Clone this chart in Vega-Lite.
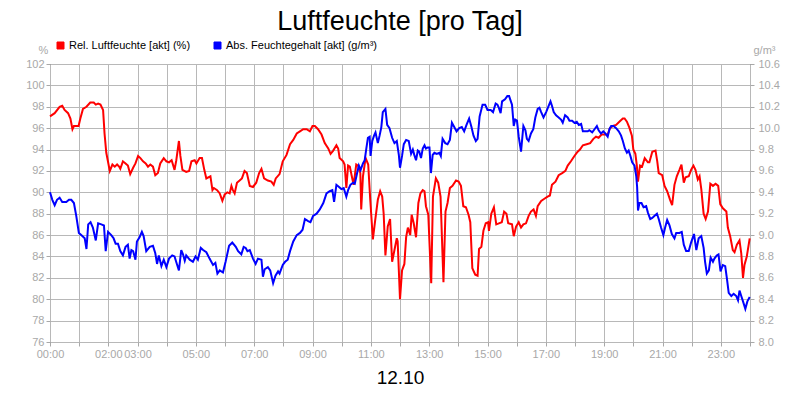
{
"$schema": "https://vega.github.io/schema/vega-lite/v6.json",
"width": 700, "height": 278,
"autosize": {"type": "none"},
"padding": {"left": 50, "top": 64, "right": 50, "bottom": 58},
"background": "white",
"title": {"text": "Luftfeuchte [pro Tag]", "font": "Liberation Sans", "fontSize": 27, "fontWeight": "normal", "color": "black", "anchor": "middle", "offset": 4},
"config": {
  "view": {"stroke": "black", "strokeWidth": 1},
  "font": "Liberation Sans",
  "axis": {"labelFont": "Liberation Sans", "titleFont": "Liberation Sans", "labelFontSize": 11, "labelColor": "#a8a8a8", "tickColor": "#a8a8a8", "tickSize": 4, "gridColor": "#b8b8b8", "gridWidth": 1, "domain": false, "labelOverlap": false, "labelFlush": false}
},
"datasets": {
"rel": [
{"t":0.00,"v":97.1},{"t":0.16,"v":97.4},{"t":0.33,"v":98.0},{"t":0.42,"v":98.1},{"t":0.50,"v":97.7},{"t":0.62,"v":97.4},{"t":0.70,"v":96.9},{"t":0.77,"v":95.9},{"t":0.82,"v":96.2},{"t":0.98,"v":96.2},
{"t":1.04,"v":96.9},{"t":1.13,"v":97.8},{"t":1.25,"v":98.0},{"t":1.38,"v":98.4},{"t":1.50,"v":98.4},{"t":1.57,"v":98.2},{"t":1.65,"v":98.3},{"t":1.73,"v":98.2},{"t":1.82,"v":97.7},{"t":1.87,"v":95.5},{"t":1.93,"v":93.7},
{"t":2.05,"v":92.0},{"t":2.14,"v":92.6},{"t":2.22,"v":92.4},{"t":2.30,"v":92.6},{"t":2.37,"v":92.4},{"t":2.41,"v":92.2},{"t":2.50,"v":92.9},{"t":2.59,"v":92.7},{"t":2.67,"v":92.5},{"t":2.75,"v":91.7},{"t":2.85,"v":92.3},{"t":2.93,"v":92.7},
{"t":3.02,"v":93.4},{"t":3.10,"v":93.2},{"t":3.19,"v":92.9},{"t":3.28,"v":92.7},{"t":3.36,"v":92.4},{"t":3.44,"v":92.6},{"t":3.53,"v":92.4},{"t":3.61,"v":91.6},{"t":3.70,"v":91.8},{"t":3.78,"v":92.7},{"t":3.90,"v":93.2},{"t":3.99,"v":92.9},
{"t":4.08,"v":92.8},{"t":4.17,"v":93.0},{"t":4.27,"v":92.1},{"t":4.33,"v":93.0},{"t":4.42,"v":94.8},{"t":4.47,"v":93.4},{"t":4.54,"v":92.1},{"t":4.67,"v":91.9},{"t":4.77,"v":92.0},{"t":4.85,"v":92.9},{"t":4.96,"v":93.0},
{"t":5.02,"v":92.7},{"t":5.13,"v":93.2},{"t":5.21,"v":93.2},{"t":5.29,"v":92.1},{"t":5.36,"v":91.3},{"t":5.50,"v":91.5},{"t":5.57,"v":90.2},{"t":5.62,"v":90.4},{"t":5.73,"v":90.2},{"t":5.82,"v":89.9},{"t":5.91,"v":89.2},{"t":5.99,"v":89.8},
{"t":6.08,"v":90.0},{"t":6.16,"v":89.9},{"t":6.22,"v":90.6},{"t":6.27,"v":90.2},{"t":6.33,"v":89.9},{"t":6.41,"v":90.9},{"t":6.50,"v":91.1},{"t":6.58,"v":91.3},{"t":6.67,"v":92.0},{"t":6.75,"v":91.8},{"t":6.85,"v":90.6},{"t":6.96,"v":90.5},
{"t":7.07,"v":90.9},{"t":7.17,"v":91.8},{"t":7.25,"v":92.2},{"t":7.34,"v":91.3},{"t":7.47,"v":91.1},{"t":7.59,"v":91.0},{"t":7.67,"v":90.7},{"t":7.74,"v":91.3},{"t":7.87,"v":91.7},{"t":7.98,"v":92.9},
{"t":8.11,"v":93.5},{"t":8.23,"v":94.5},{"t":8.34,"v":94.9},{"t":8.46,"v":95.5},{"t":8.57,"v":95.7},{"t":8.68,"v":95.9},{"t":8.80,"v":95.9},{"t":8.91,"v":95.7},{"t":9.00,"v":96.2},{"t":9.08,"v":96.2},{"t":9.19,"v":95.9},
{"t":9.31,"v":95.4},{"t":9.42,"v":94.6},{"t":9.54,"v":94.1},{"t":9.62,"v":93.6},{"t":9.71,"v":93.9},{"t":9.82,"v":94.4},{"t":9.88,"v":94.1},{"t":9.93,"v":93.2},{"t":10.05,"v":92.9},{"t":10.10,"v":92.6},{"t":10.16,"v":90.4},
{"t":10.22,"v":92.5},{"t":10.28,"v":92.4},{"t":10.34,"v":91.6},{"t":10.41,"v":90.7},{"t":10.50,"v":92.6},{"t":10.56,"v":92.5},{"t":10.64,"v":91.8},{"t":10.67,"v":88.4},{"t":10.73,"v":91.5},{"t":10.82,"v":93.2},{"t":10.91,"v":92.6},
{"t":10.98,"v":89.3},{"t":11.07,"v":85.6},{"t":11.15,"v":87.4},{"t":11.24,"v":89.3},{"t":11.32,"v":90.1},{"t":11.39,"v":89.6},{"t":11.44,"v":88.0},{"t":11.50,"v":84.1},{"t":11.58,"v":86.8},{"t":11.66,"v":87.5},{"t":11.73,"v":83.5},
{"t":11.81,"v":84.6},{"t":11.89,"v":85.7},{"t":11.92,"v":85.4},{"t":12.00,"v":80.0},{"t":12.07,"v":82.7},{"t":12.15,"v":83.3},{"t":12.21,"v":85.8},{"t":12.27,"v":86.7},{"t":12.35,"v":86.0},{"t":12.40,"v":87.9},{"t":12.47,"v":87.1},
{"t":12.55,"v":85.8},{"t":12.63,"v":89.0},{"t":12.70,"v":89.9},{"t":12.78,"v":90.2},{"t":12.84,"v":90.1},{"t":12.89,"v":88.7},{"t":12.97,"v":87.9},{"t":13.07,"v":81.5},{"t":13.13,"v":89.6},{"t":13.23,"v":91.3},{"t":13.31,"v":90.9},
{"t":13.39,"v":89.6},{"t":13.49,"v":81.6},{"t":13.56,"v":88.2},{"t":13.63,"v":89.0},{"t":13.71,"v":90.4},{"t":13.80,"v":90.6},{"t":13.92,"v":91.1},{"t":14.01,"v":91.0},{"t":14.09,"v":90.6},{"t":14.17,"v":88.7},{"t":14.26,"v":88.6},
{"t":14.35,"v":87.9},{"t":14.41,"v":87.2},{"t":14.48,"v":82.9},{"t":14.58,"v":82.3},{"t":14.66,"v":82.2},{"t":14.71,"v":84.7},{"t":14.79,"v":84.9},{"t":14.86,"v":86.4},{"t":14.94,"v":87.1},{"t":15.02,"v":87.2},{"t":15.05,"v":86.4},
{"t":15.13,"v":88.0},{"t":15.22,"v":88.6},{"t":15.30,"v":87.0},{"t":15.39,"v":87.1},{"t":15.49,"v":87.2},{"t":15.57,"v":88.2},{"t":15.65,"v":88.0},{"t":15.71,"v":87.1},{"t":15.84,"v":87.0},{"t":15.90,"v":85.9},{"t":15.98,"v":86.8},
{"t":16.07,"v":87.2},{"t":16.15,"v":86.7},{"t":16.23,"v":87.0},{"t":16.32,"v":87.1},{"t":16.41,"v":87.8},{"t":16.49,"v":88.2},{"t":16.58,"v":88.4},{"t":16.66,"v":87.8},{"t":16.72,"v":88.7},{"t":16.84,"v":89.2},{"t":16.95,"v":89.4},
{"t":17.06,"v":89.6},{"t":17.14,"v":89.7},{"t":17.21,"v":90.7},{"t":17.33,"v":91.0},{"t":17.44,"v":91.6},{"t":17.56,"v":91.8},{"t":17.67,"v":92.0},{"t":17.75,"v":92.5},{"t":17.86,"v":92.9},{"t":17.98,"v":93.4},
{"t":18.09,"v":93.8},{"t":18.17,"v":94.0},{"t":18.27,"v":94.4},{"t":18.40,"v":94.5},{"t":18.52,"v":94.6},{"t":18.63,"v":95.0},{"t":18.72,"v":95.2},{"t":18.81,"v":95.1},{"t":18.91,"v":95.4},{"t":19.04,"v":95.4},{"t":19.12,"v":95.4},
{"t":19.20,"v":96.0},{"t":19.30,"v":96.2},{"t":19.41,"v":96.3},{"t":19.52,"v":96.6},{"t":19.64,"v":96.9},{"t":19.70,"v":96.9},{"t":19.78,"v":96.6},{"t":19.87,"v":96.0},{"t":19.95,"v":95.3},{"t":20.00,"v":94.0},{"t":20.07,"v":93.6},
{"t":20.12,"v":92.5},{"t":20.16,"v":91.0},{"t":20.23,"v":92.5},{"t":20.30,"v":92.4},{"t":20.39,"v":93.2},{"t":20.50,"v":92.8},{"t":20.55,"v":92.8},{"t":20.65,"v":93.8},{"t":20.76,"v":93.9},{"t":20.82,"v":92.9},{"t":20.87,"v":91.8},
{"t":20.99,"v":91.6},{"t":21.07,"v":90.6},{"t":21.16,"v":90.1},{"t":21.26,"v":89.3},{"t":21.33,"v":88.8},{"t":21.41,"v":90.7},{"t":21.49,"v":91.5},{"t":21.58,"v":92.1},{"t":21.65,"v":92.6},{"t":21.73,"v":90.9},{"t":21.79,"v":91.4},
{"t":21.90,"v":91.5},{"t":21.98,"v":92.1},{"t":22.06,"v":92.5},{"t":22.13,"v":92.1},{"t":22.21,"v":91.2},{"t":22.27,"v":91.5},{"t":22.33,"v":90.3},{"t":22.41,"v":88.0},{"t":22.48,"v":87.5},{"t":22.56,"v":88.2},{"t":22.64,"v":90.8},
{"t":22.73,"v":90.6},{"t":22.82,"v":90.8},{"t":22.91,"v":90.6},{"t":22.98,"v":88.9},{"t":23.07,"v":88.5},{"t":23.19,"v":88.2},{"t":23.24,"v":86.7},{"t":23.32,"v":85.9},{"t":23.41,"v":84.6},{"t":23.47,"v":84.4},{"t":23.55,"v":85.1},
{"t":23.64,"v":85.5},{"t":23.70,"v":84.3},{"t":23.76,"v":82.0},{"t":23.81,"v":83.2},{"t":23.89,"v":84.0},{"t":23.99,"v":85.7}
],
"abs": [
{"t":0.00,"v":9.40},{"t":0.08,"v":9.33},{"t":0.16,"v":9.28},{"t":0.24,"v":9.33},{"t":0.33,"v":9.35},{"t":0.42,"v":9.31},{"t":0.56,"v":9.31},{"t":0.65,"v":9.33},{"t":0.73,"v":9.33},{"t":0.82,"v":9.30},{"t":0.90,"v":9.18},{"t":0.99,"v":9.02},
{"t":1.07,"v":9.00},{"t":1.19,"v":8.97},{"t":1.25,"v":8.87},{"t":1.31,"v":9.10},{"t":1.39,"v":9.12},{"t":1.47,"v":9.07},{"t":1.57,"v":8.95},{"t":1.65,"v":9.11},{"t":1.76,"v":9.10},{"t":1.85,"v":9.09},{"t":1.91,"v":8.85},{"t":1.99,"v":9.03},
{"t":2.10,"v":9.00},{"t":2.18,"v":8.97},{"t":2.25,"v":8.92},{"t":2.33,"v":8.92},{"t":2.41,"v":8.85},{"t":2.50,"v":8.81},{"t":2.59,"v":8.89},{"t":2.67,"v":8.91},{"t":2.73,"v":8.78},{"t":2.79,"v":8.86},{"t":2.85,"v":8.85},{"t":2.93,"v":8.77},{"t":2.98,"v":8.94},
{"t":3.07,"v":8.98},{"t":3.15,"v":9.03},{"t":3.21,"v":8.99},{"t":3.30,"v":8.85},{"t":3.42,"v":8.89},{"t":3.53,"v":8.90},{"t":3.61,"v":8.83},{"t":3.67,"v":8.73},{"t":3.73,"v":8.81},{"t":3.82,"v":8.71},{"t":3.90,"v":8.77},{"t":3.99,"v":8.70},
{"t":4.08,"v":8.78},{"t":4.19,"v":8.81},{"t":4.27,"v":8.80},{"t":4.35,"v":8.73},{"t":4.42,"v":8.67},{"t":4.50,"v":8.86},{"t":4.56,"v":8.82},{"t":4.62,"v":8.76},{"t":4.67,"v":8.81},{"t":4.79,"v":8.77},{"t":4.90,"v":8.75},{"t":4.99,"v":8.80},
{"t":5.07,"v":8.77},{"t":5.17,"v":8.88},{"t":5.25,"v":8.86},{"t":5.36,"v":8.84},{"t":5.47,"v":8.78},{"t":5.59,"v":8.72},{"t":5.67,"v":8.74},{"t":5.74,"v":8.64},{"t":5.82,"v":8.67},{"t":5.93,"v":8.65},
{"t":6.02,"v":8.75},{"t":6.14,"v":8.90},{"t":6.25,"v":8.93},{"t":6.37,"v":8.89},{"t":6.45,"v":8.85},{"t":6.56,"v":8.82},{"t":6.64,"v":8.89},{"t":6.71,"v":8.88},{"t":6.77,"v":8.85},{"t":6.85,"v":8.86},{"t":6.96,"v":8.78},
{"t":7.05,"v":8.73},{"t":7.13,"v":8.78},{"t":7.25,"v":8.77},{"t":7.30,"v":8.61},{"t":7.36,"v":8.68},{"t":7.47,"v":8.70},{"t":7.55,"v":8.67},{"t":7.65,"v":8.55},{"t":7.73,"v":8.62},{"t":7.82,"v":8.66},{"t":7.87,"v":8.64},{"t":7.98,"v":8.72},
{"t":8.06,"v":8.75},{"t":8.15,"v":8.77},{"t":8.23,"v":8.85},{"t":8.34,"v":8.94},{"t":8.46,"v":9.00},{"t":8.57,"v":9.02},{"t":8.66,"v":9.05},{"t":8.74,"v":9.15},{"t":8.85,"v":9.13},{"t":8.93,"v":9.12},
{"t":9.02,"v":9.18},{"t":9.14,"v":9.20},{"t":9.25,"v":9.24},{"t":9.37,"v":9.30},{"t":9.48,"v":9.39},{"t":9.59,"v":9.41},{"t":9.68,"v":9.42},{"t":9.74,"v":9.31},{"t":9.82,"v":9.47},{"t":9.91,"v":9.45},{"t":9.99,"v":9.43},
{"t":10.07,"v":9.44},{"t":10.16,"v":9.36},{"t":10.22,"v":9.42},{"t":10.30,"v":9.47},{"t":10.39,"v":9.49},{"t":10.45,"v":9.48},{"t":10.53,"v":9.58},{"t":10.59,"v":9.65},{"t":10.65,"v":9.61},{"t":10.73,"v":9.67},{"t":10.79,"v":9.70},
{"t":10.84,"v":9.80},{"t":10.90,"v":9.91},{"t":10.96,"v":9.92},{"t":10.99,"v":9.74},{"t":11.05,"v":9.88},{"t":11.11,"v":9.93},{"t":11.16,"v":9.96},{"t":11.24,"v":9.86},{"t":11.30,"v":9.93},{"t":11.36,"v":10.01},{"t":11.41,"v":10.15},
{"t":11.50,"v":10.18},{"t":11.56,"v":10.03},{"t":11.64,"v":10.00},{"t":11.73,"v":9.91},{"t":11.81,"v":9.86},{"t":11.89,"v":9.88},{"t":11.96,"v":9.75},{"t":12.00,"v":9.63},{"t":12.07,"v":9.74},{"t":12.13,"v":9.85},{"t":12.21,"v":9.89},
{"t":12.30,"v":9.88},{"t":12.38,"v":9.76},{"t":12.44,"v":9.80},{"t":12.49,"v":9.75},{"t":12.55,"v":9.70},{"t":12.61,"v":9.79},{"t":12.66,"v":9.78},{"t":12.72,"v":9.72},{"t":12.78,"v":9.81},{"t":12.84,"v":9.84},{"t":12.89,"v":9.81},
{"t":12.95,"v":9.82},{"t":13.01,"v":9.82},{"t":13.06,"v":9.58},{"t":13.12,"v":9.75},{"t":13.18,"v":9.77},{"t":13.26,"v":9.76},{"t":13.35,"v":9.77},{"t":13.40,"v":9.74},{"t":13.46,"v":9.90},{"t":13.55,"v":9.86},{"t":13.63,"v":9.85},
{"t":13.71,"v":9.89},{"t":13.78,"v":10.05},{"t":13.86,"v":10.01},{"t":13.94,"v":9.97},{"t":14.03,"v":10.00},{"t":14.12,"v":10.01},{"t":14.20,"v":9.97},{"t":14.28,"v":10.03},{"t":14.37,"v":10.09},{"t":14.45,"v":10.01},
{"t":14.52,"v":9.93},{"t":14.60,"v":9.88},{"t":14.66,"v":9.90},{"t":14.73,"v":10.11},{"t":14.83,"v":10.22},{"t":14.92,"v":10.22},{"t":15.00,"v":10.17},{"t":15.11,"v":10.17},{"t":15.19,"v":10.15},{"t":15.28,"v":10.23},
{"t":15.34,"v":10.22},{"t":15.39,"v":10.19},{"t":15.45,"v":10.14},{"t":15.50,"v":10.25},{"t":15.60,"v":10.27},{"t":15.68,"v":10.30},{"t":15.74,"v":10.30},{"t":15.84,"v":10.22},{"t":15.90,"v":10.02},{"t":15.95,"v":10.08},
{"t":16.01,"v":10.07},{"t":16.07,"v":9.92},{"t":16.15,"v":9.78},{"t":16.23,"v":10.02},{"t":16.30,"v":9.98},{"t":16.35,"v":9.90},{"t":16.41,"v":9.88},{"t":16.49,"v":9.95},{"t":16.57,"v":9.99},{"t":16.64,"v":10.10},{"t":16.72,"v":10.18},
{"t":16.78,"v":10.19},{"t":16.84,"v":10.15},{"t":16.92,"v":10.10},{"t":17.01,"v":10.15},{"t":17.10,"v":10.21},{"t":17.16,"v":10.25},{"t":17.21,"v":10.21},{"t":17.27,"v":10.15},{"t":17.35,"v":10.12},{"t":17.44,"v":10.10},
{"t":17.52,"v":10.08},{"t":17.58,"v":10.05},{"t":17.66,"v":10.12},{"t":17.75,"v":10.10},{"t":17.81,"v":10.07},{"t":17.90,"v":10.07},{"t":17.98,"v":10.05},{"t":18.06,"v":10.06},{"t":18.13,"v":10.03},{"t":18.21,"v":10.04},
{"t":18.27,"v":9.97},{"t":18.36,"v":9.97},{"t":18.44,"v":9.97},{"t":18.49,"v":9.98},{"t":18.59,"v":9.96},{"t":18.67,"v":9.99},{"t":18.75,"v":10.02},{"t":18.81,"v":9.98},{"t":18.89,"v":9.95},{"t":18.97,"v":9.97},
{"t":19.04,"v":9.95},{"t":19.12,"v":9.92},{"t":19.18,"v":9.99},{"t":19.24,"v":10.02},{"t":19.32,"v":10.02},{"t":19.41,"v":10.00},{"t":19.50,"v":9.97},{"t":19.58,"v":9.93},{"t":19.64,"v":9.88},{"t":19.71,"v":9.81},{"t":19.78,"v":9.77},
{"t":19.84,"v":9.79},{"t":19.90,"v":9.74},{"t":19.96,"v":9.68},{"t":20.04,"v":9.65},{"t":20.10,"v":9.55},{"t":20.13,"v":9.45},{"t":20.16,"v":9.23},{"t":20.21,"v":9.30},{"t":20.28,"v":9.30},{"t":20.35,"v":9.26},{"t":20.44,"v":9.27},
{"t":20.50,"v":9.21},{"t":20.58,"v":9.15},{"t":20.65,"v":9.16},{"t":20.73,"v":9.18},{"t":20.81,"v":9.20},{"t":20.87,"v":9.15},{"t":20.95,"v":9.07},{"t":21.03,"v":9.00},{"t":21.09,"v":9.07},{"t":21.16,"v":9.14},{"t":21.24,"v":9.09},
{"t":21.32,"v":9.01},{"t":21.41,"v":8.97},{"t":21.47,"v":9.02},{"t":21.58,"v":9.02},{"t":21.66,"v":9.03},{"t":21.73,"v":8.91},{"t":21.81,"v":8.85},{"t":21.90,"v":8.85},{"t":21.98,"v":8.93},{"t":22.08,"v":9.01},{"t":22.16,"v":8.86},
{"t":22.24,"v":8.97},{"t":22.33,"v":8.99},{"t":22.41,"v":8.88},{"t":22.46,"v":8.75},{"t":22.52,"v":8.64},{"t":22.59,"v":8.67},{"t":22.65,"v":8.79},{"t":22.73,"v":8.75},{"t":22.78,"v":8.78},{"t":22.86,"v":8.81},{"t":22.92,"v":8.82},
{"t":22.99,"v":8.66},{"t":23.07,"v":8.72},{"t":23.15,"v":8.71},{"t":23.21,"v":8.59},{"t":23.27,"v":8.46},{"t":23.36,"v":8.43},{"t":23.44,"v":8.45},{"t":23.53,"v":8.43},{"t":23.59,"v":8.39},{"t":23.64,"v":8.48},{"t":23.70,"v":8.43},
{"t":23.76,"v":8.38},{"t":23.84,"v":8.31},{"t":23.91,"v":8.38},{"t":23.99,"v":8.42}
]
},
"layer": [
{
  "data": {"name": "rel"},
  "mark": {"type": "line", "strokeWidth": 2},
  "encoding": {
    "x": {"field": "t", "type": "quantitative", "scale": {"domain": [0, 24], "nice": false},
      "axis": {"values": [0,1,2,3,4,5,6,7,8,9,10,11,12,13,14,15,16,17,18,19,20,21,22,23,24], "grid": true, "labelPadding": 2,
        "labelExpr": "datum.value == 1 || (datum.value % 2 == 0 && datum.value > 2) ? '' : format(datum.value, '02d') + ':00'",
        "title": "12.10", "titleFontSize": 19, "titleFontWeight": "normal", "titleColor": "black", "titleY": 41, "titleBaseline": "alphabetic"}},
    "y": {"field": "v", "type": "quantitative", "scale": {"domain": [76, 102], "nice": false, "zero": false},
      "axis": {"orient": "left", "values": [76,78,80,82,84,86,88,90,92,94,96,98,100,102], "grid": true, "labelPadding": 2,
        "title": "%", "titleAngle": 0, "titleX": -7, "titleY": -11, "titleAlign": "center", "titleBaseline": "alphabetic", "titleFontSize": 11, "titleFontWeight": "normal", "titleColor": "#a8a8a8"}},
    "color": {"datum": "Rel. Luftfeuchte [akt] (%)", "type": "nominal",
      "scale": {"domain": ["Rel. Luftfeuchte [akt] (%)", "Abs. Feuchtegehalt [akt] (g/m³)"], "range": ["#ff0000", "#0000ff"]},
      "legend": {"orient": "none", "legendX": 5, "legendY": -24, "direction": "horizontal", "title": null, "padding": 0,
        "symbolType": "square", "symbolSize": 49, "symbolStrokeColor": "black", "symbolStrokeWidth": 1,
        "labelFont": "Liberation Sans", "labelFontSize": 11, "labelColor": "black", "labelOffset": 3, "columnPadding": 21,
        "encode": {"symbols": {"update": {"fill": {"scale": "color", "field": "value"}, "fillOpacity": {"value": 1}, "stroke": {"value": "black"}}}}}}
  }
},
{
  "data": {"name": "abs"},
  "mark": {"type": "line", "strokeWidth": 2},
  "encoding": {
    "x": {"field": "t", "type": "quantitative", "scale": {"domain": [0, 24], "nice": false},
      "axis": {"values": [0,1,2,3,4,5,6,7,8,9,10,11,12,13,14,15,16,17,18,19,20,21,22,23,24], "grid": true, "labelPadding": 2,
        "labelExpr": "datum.value == 1 || (datum.value % 2 == 0 && datum.value > 2) ? '' : format(datum.value, '02d') + ':00'",
        "title": "12.10", "titleFontSize": 19, "titleFontWeight": "normal", "titleColor": "black", "titleY": 41, "titleBaseline": "alphabetic"}},
    "y": {"field": "v", "type": "quantitative", "scale": {"domain": [8.0, 10.6], "nice": false, "zero": false},
      "axis": {"orient": "right", "values": [8.0,8.2,8.4,8.6,8.8,9.0,9.2,9.4,9.6,9.8,10.0,10.2,10.4,10.6], "format": ".1f", "grid": false, "labelPadding": 4,
        "title": "g/m³", "titleAngle": 0, "titleX": 3, "titleY": -11, "titleAlign": "left", "titleBaseline": "alphabetic", "titleFontSize": 11, "titleFontWeight": "normal", "titleColor": "#a8a8a8"}},
    "color": {"datum": "Abs. Feuchtegehalt [akt] (g/m³)", "type": "nominal"}
  }
}
],
"resolve": {"scale": {"y": "independent"}}
}
